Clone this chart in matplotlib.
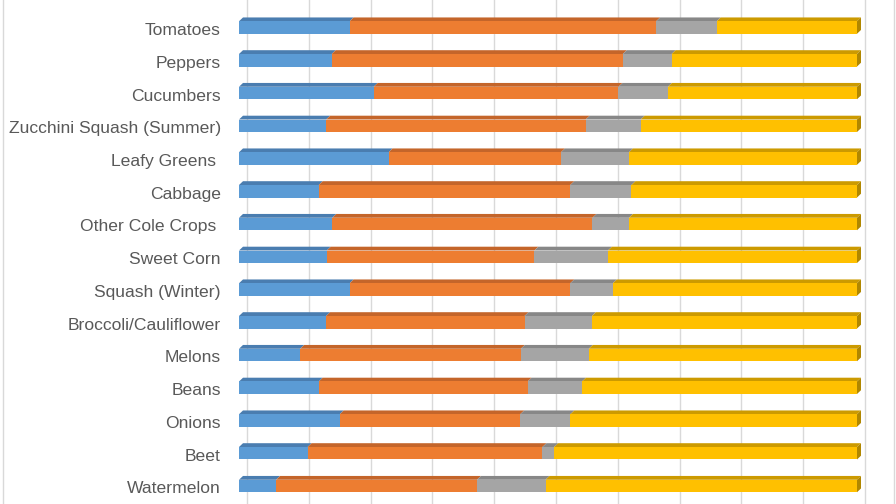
import matplotlib
matplotlib.use("Agg")
import matplotlib.pyplot as plt
from matplotlib.patches import Polygon
from matplotlib.transforms import ScaledTranslation
from matplotlib.lines import Line2D

crops = ["Tomatoes", "Peppers", "Cucumbers", "Zucchini Squash (Summer)", "Leafy Greens ",
         "Cabbage", "Other Cole Crops ", "Sweet Corn", "Squash (Winter)", "Broccoli/Cauliflower",
         "Melons", "Beans", "Onions", "Beet", "Watermelon"]

# percentage shares of each segment (100% stacked)
blue   = [17.9, 15.0, 21.8, 14.1, 24.2, 12.9, 15.1, 14.2, 17.9, 14.1, 9.9, 12.9, 16.3, 11.1, 6.0]
orange = [49.6, 47.1, 39.6, 42.0, 27.9, 40.7, 42.1, 33.6, 35.7, 32.1, 35.7, 33.8, 29.2, 38.0, 32.5]
gray   = [9.8, 7.9, 8.0, 8.9, 11.0, 9.9, 5.9, 11.9, 6.9, 10.9, 11.0, 8.8, 8.1, 1.9, 11.1]
yellow = [round(100 - b - o - g, 1) for b, o, g in zip(blue, orange, gray)]

series = [blue, orange, gray, yellow]
front_cols = ["#5B9BD5", "#ED7D31", "#A5A5A5", "#FFC000"]
top_cols = ["#4A7DB0", "#C4652A", "#878787", "#CC9A00"]
side_col = "#B08700"

W, H = 896, 504
fig = plt.figure(figsize=(W / 100, H / 100), dpi=100)
x0, x1 = 239, 857
ax = fig.add_axes([x0 / W, 0, (x1 - x0) / W, 1])
row_px = 32.75
first_px = 27.5
ax.set_xlim(0, 100)
ax.set_ylim((H - first_px) / row_px, -first_px / row_px)
for s in ax.spines.values():
    s.set_visible(False)
ax.set_xticks([])

# back-wall gridlines
off = ScaledTranslation(8 / 100, 0, fig.dpi_scale_trans)
gtrans = ax.get_xaxis_transform() + off
for v in range(0, 101, 10):
    ax.plot([v, v], [0, 1], transform=gtrans, color="#D9D9D9", lw=1.0, zorder=0, clip_on=False)

h = 12.5 / row_px
dx = 4 * 100 / (x1 - x0)
dy = 3.8 / row_px
ys = list(range(len(crops)))
left = [0.0] * len(crops)
for k, vals in enumerate(series):
    ax.barh(ys, vals, left=left, height=h, color=front_cols[k], zorder=3, clip_on=False)
    for i, (l, w) in enumerate(zip(left, vals)):
        yt = i - h / 2
        ax.add_patch(Polygon([(l, yt), (l + w, yt), (l + w + dx, yt - dy), (l + dx, yt - dy)],
                             closed=True, facecolor=top_cols[k], edgecolor="none", zorder=2,
                             clip_on=False))
    left = [a + b for a, b in zip(left, vals)]

for i, tot in enumerate(left):
    yt, yb = i - h / 2, i + h / 2
    ax.add_patch(Polygon([(tot, yt), (tot + dx, yt - dy), (tot + dx, yb - dy), (tot, yb)],
                         closed=True, facecolor=side_col, edgecolor="none", zorder=2, clip_on=False))

ax.set_yticks(ys)
ax.set_yticklabels(crops, fontsize=12.6, color="#595959", family=["Liberation Sans", "DejaVu Sans"])
ax.tick_params(axis="y", length=0, pad=13)
for lab in ax.get_yticklabels():
    lab.set_y(lab.get_position()[1])
    lab.set_transform(lab.get_transform() + ScaledTranslation(0, -1.5 / 100, fig.dpi_scale_trans))

# chart area border lines
fig.add_artist(Line2D([2.5 / W, 2.5 / W], [0, 1], color="#D9D9D9", lw=1))
fig.add_artist(Line2D([893.5 / W, 893.5 / W], [0, 1], color="#D9D9D9", lw=1))

fig.savefig("out.png", dpi=100)
